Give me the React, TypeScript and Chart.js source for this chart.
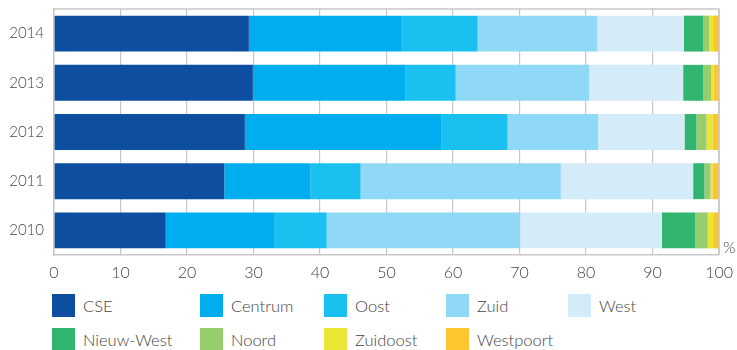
import React, { useEffect, useRef } from "react";
import { Chart, registerables } from "chart.js";

Chart.register(...registerables);

const years = ["2014", "2013", "2012", "2011", "2010"];
const seriesNames = ["CSE", "Centrum", "Oost", "Zuid", "West", "Nieuw-West", "Noord", "Zuidoost", "Westpoort"];
const seriesColors = ["#0d4ea0", "#00aeef", "#19c0f0", "#8fd8f6", "#d4ecf9", "#30b46f", "#98cd6e", "#ebe534", "#fec52e"];

const cse = [29.3, 29.9, 28.7, 25.6, 16.8];
const centrum = [23.0, 22.9, 29.6, 13.0, 16.4];
const oost = [11.4, 7.6, 9.9, 7.5, 7.8];
const zuid = [18.0, 20.1, 13.6, 30.1, 29.1];
const west = [13.0, 14.1, 13.0, 19.9, 21.3];
const nieuwWest = [2.9, 3.0, 1.8, 1.7, 5.0];
const noord = [0.9, 1.2, 1.5, 0.9, 1.9];
const zuidoost = [0.6, 0.4, 0.9, 0.3, 0.8];
const westpoort = [0.9, 0.8, 1.0, 1.0, 0.9];
const seriesValues = [cse, centrum, oost, zuid, west, nieuwWest, noord, zuidoost, westpoort];

const xTicks = [0, 10, 20, 30, 40, 50, 60, 70, 80, 90, 100];
const unitLabel = "%";

const FONT = "Lato, 'Open Sans', sans-serif";
const TEXT = "#444444";

const frame = {
  id: "frame",
  afterDraw(chart: any) {
    const { ctx, chartArea } = chart;
    ctx.save();
    ctx.strokeStyle = "#c8c8c8";
    ctx.lineWidth = 1.5;
    ctx.beginPath();
    ctx.moveTo(chartArea.left, chartArea.top);
    ctx.lineTo(chartArea.right, chartArea.top);
    ctx.lineTo(chartArea.right, chartArea.bottom);
    ctx.stroke();
    ctx.fillStyle = TEXT;
    ctx.font = "300 16px " + FONT;
    ctx.textAlign = "left";
    ctx.textBaseline = "middle";
    ctx.fillText(unitLabel, chartArea.right + 4, chartArea.bottom - 7);
    ctx.restore();
  },
};

export default function App() {
  const ref = useRef<HTMLCanvasElement | null>(null);

  useEffect(() => {
    document.body.style.margin = "0";
    const chart = new Chart(ref.current as HTMLCanvasElement, {
      type: "bar",
      data: {
        labels: years,
        datasets: seriesNames.map((name, i) => ({
          label: name,
          data: seriesValues[i],
          backgroundColor: seriesColors[i],
          borderWidth: 0,
          barPercentage: 0.73,
          categoryPercentage: 1,
        })),
      },
      options: {
        indexAxis: "y",
        animation: false,
        responsive: false,
        maintainAspectRatio: false,
        layout: { autoPadding: false, padding: { left: 0, right: 16, top: 7, bottom: 0 } },
        plugins: { legend: { display: false }, tooltip: { enabled: false } },
        scales: {
          x: {
            stacked: true,
            min: 0,
            max: 100,
            afterBuildTicks: (axis: any) => {
              axis.ticks = xTicks.map((v) => ({ value: v }));
            },
            afterFit: (axis: any) => {
              axis.height = 30;
            },
            grid: { color: "#c8c8c8", lineWidth: 1.2, drawTicks: false },
            border: { display: true, color: "#c8c8c8", width: 1.5 },
            ticks: { color: TEXT, font: { family: FONT, size: 16, weight: 300 }, padding: 8, maxRotation: 0 },
          },
          y: {
            stacked: true,
            afterFit: (axis: any) => {
              axis.width = 54;
            },
            grid: { display: false, drawTicks: false },
            border: { display: true, color: "#c8c8c8", width: 1.5 },
            ticks: { color: TEXT, font: { family: FONT, size: 15, weight: 300 }, padding: 10 },
          },
        },
      },
      plugins: [frame],
    });
    return () => chart.destroy();
  }, []);

  const colLefts = [52, 200, 324, 446, 568];
  return (
    <div style={{ position: "relative", width: 737, height: 350, overflow: "hidden", background: "#fff" }}>
      <canvas ref={ref} width={741} height={295} style={{ position: "absolute", left: 0, top: -10 }} />
      {seriesNames.map((name, i) => (
        <div
          key={name}
          style={{
            position: "absolute",
            left: colLefts[i % 5],
            top: 294 + Math.floor(i / 5) * 34,
            display: "flex",
            alignItems: "center",
            fontFamily: FONT,
            fontWeight: 300,
            fontSize: 16.5,
            color: TEXT,
            whiteSpace: "nowrap",
          }}
        >
          <span style={{ display: "inline-block", width: 23, height: 23, background: seriesColors[i], marginRight: 8 }} />
          <span>{name}</span>
        </div>
      ))}
    </div>
  );
}
